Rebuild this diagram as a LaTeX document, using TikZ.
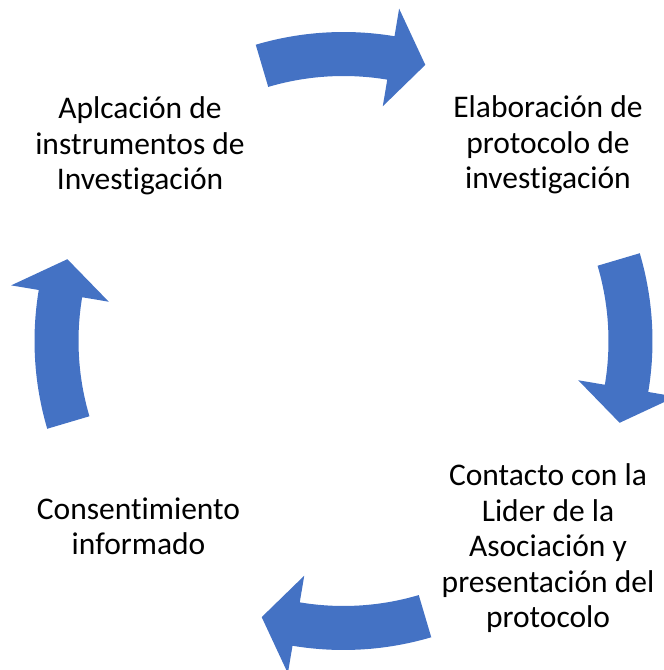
\documentclass[tikz,border=0pt]{standalone}
\usepackage{fontspec}
\setmainfont{Carlito}[Ligatures=NoCommon]
\definecolor{arrowblue}{HTML}{4472C4}
\begin{document}
\begin{tikzpicture}[x=1pt,y=1pt,
  cyclearrow/.style={fill=arrowblue, draw=none},
  steptext/.style={align=center, inner sep=0pt, anchor=base,
    font=\fontsize{31.5}{35.5}\selectfont, text=black}]
\useasboundingbox (0,0) rectangle (664,670);
\clip (0,0) rectangle (664,670);
\coordinate (c) at (343.5,329);
\foreach \a in {90,0,-90,180} {
  \fill[cyclearrow, shift={(c)}]
    ({\a+16.5}:309) arc[start angle={\a+16.5}, end angle={\a-9.5}, radius=309]
    -- ({\a-9.5}:337) -- ({\a-16.5}:288) -- ({\a-9.5}:238) -- ({\a-9.5}:265)
    arc[start angle={\a-9.5}, end angle={\a+16.5}, radius=265] -- cycle;
}
\node[steptext] (s1) at (548,481) {Elaboración de\\protocolo de\\investigación};
\node[steptext] (s2) at (548,42) {Contacto con la\\Lider de la\\Asociación y\\presentación del\\protocolo};
\node[steptext] (s3) at (138.5,115) {Consentimiento\\informado};
\node[steptext] (s4) at (140,480) {Aplcación de\\instrumentos de\\Investigación};
\end{tikzpicture}
\end{document}
